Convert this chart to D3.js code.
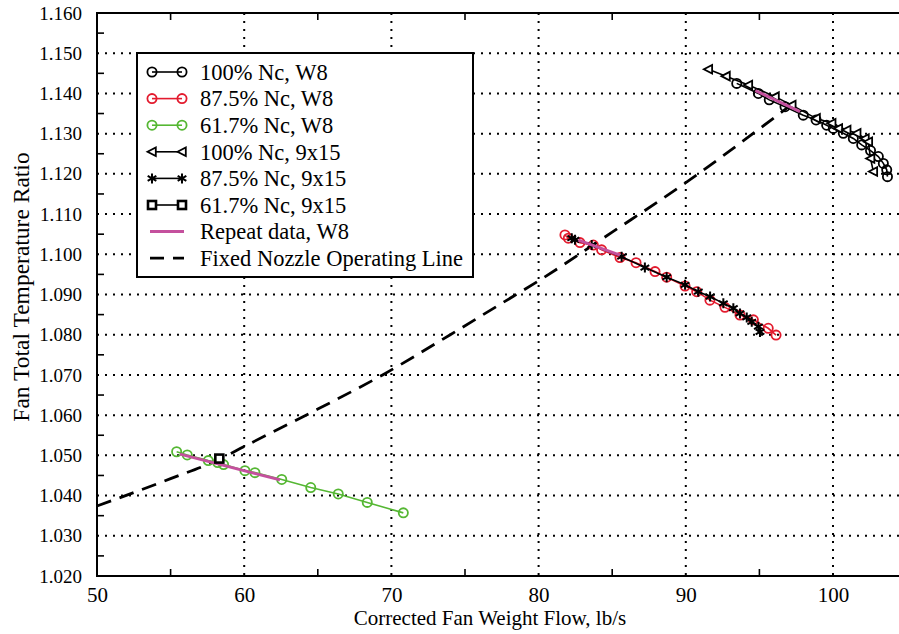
<!DOCTYPE html>
<html>
<head>
<meta charset="utf-8">
<script src="https://cdn.jsdelivr.net/npm/d3@7"></script>
<style>
  html, body { margin: 0; padding: 0; background: #fff; }
  svg { display: block; }
  text { font-family: "Liberation Serif", "Times New Roman", serif; fill: #000; }
</style>
</head>
<body>
<svg id="chart" width="899" height="634"></svg>
<script>
// ---------------- DATA ----------------
const xTicks = [50, 60, 70, 80, 90, 100];
const xMinorTicks = [55, 65, 75, 85, 95, 105];
const yTicks = [1.020, 1.030, 1.040, 1.050, 1.060, 1.070, 1.080, 1.090, 1.100, 1.110, 1.120, 1.130, 1.140, 1.150, 1.160];
const yMinorTicks = [1.025, 1.035, 1.045, 1.055, 1.065, 1.075, 1.085, 1.095, 1.105, 1.115, 1.125, 1.135, 1.145, 1.155];

const nc100W8 = [[93.46,1.1425],[94.93,1.1400],[95.67,1.1384],[96.74,1.1367],[97.98,1.1346],[98.85,1.1334],[99.57,1.1321],[100.02,1.1313],[100.70,1.1301],[101.38,1.1288],[101.95,1.1272],[102.55,1.1258],[103.08,1.1243],[103.42,1.1226],[103.65,1.1210],[103.70,1.1193]];
const nc875W8 = [[81.79,1.1048],[82.02,1.1040],[82.81,1.1029],[83.72,1.1023],[84.28,1.1011],[85.53,1.0992],[86.62,1.0979],[87.91,1.0957],[88.70,1.0943],[89.95,1.0921],[90.74,1.0907],[91.64,1.0886],[92.66,1.0868],[93.68,1.0849],[94.59,1.0837],[95.60,1.0816],[96.13,1.0799]];
const nc617W8 = [[55.41,1.0509],[56.13,1.0501],[57.56,1.0487],[58.20,1.0482],[58.60,1.0477],[60.05,1.0462],[60.73,1.0457],[62.55,1.0440],[64.52,1.0420],[66.39,1.0404],[68.36,1.0383],[70.81,1.0357]];
const nc100_9x15 = [[91.53,1.1460],[92.73,1.1443],[94.25,1.1421],[96.06,1.1392],[97.20,1.1371],[98.85,1.1338],[99.91,1.1326],[100.36,1.1313],[100.93,1.1309],[101.61,1.1301],[102.17,1.1288],[102.40,1.1280],[102.55,1.1238],[102.74,1.1206]];
const nc875_9x15 = [[82.25,1.1040],[82.47,1.1036],[83.61,1.1023],[85.64,1.0994],[87.22,1.0967],[88.70,1.0943],[89.95,1.0924],[90.85,1.0907],[91.65,1.0895],[92.55,1.0878],[93.23,1.0866],[93.68,1.0853],[94.14,1.0843],[94.48,1.0832],[94.93,1.0820],[95.04,1.0807]];
const nc617_9x15 = [[58.31,1.0492]];
const repeat100 = [[94.73,1.1407],[97.76,1.1355]];
const repeat875 = [[82.70,1.1035],[85.53,1.0998]];
const repeat617 = [[55.64,1.0503],[62.43,1.0439]];
const operatingLine = [[50,1.0374],[55,1.0442],[58.3,1.0490],[60,1.0522],[65,1.0615],[69.4,1.0700],[74,1.0800],[77.4,1.0876],[80,1.0934],[85,1.1055],[90,1.1178],[95,1.1312],[97.1,1.1370]];

const legendLabels = ["100% Nc, W8","87.5% Nc, W8","61.7% Nc, W8","100% Nc, 9x15","87.5% Nc, 9x15","61.7% Nc, 9x15","Repeat data, W8","Fixed Nozzle Operating Line"];

(function () {
// ---------------- STYLES ----------------
const RED = "#e31b2e", GREEN = "#55b733", PINK = "#c4509d", BLACK = "#000";

const svg = d3.select("#chart");
const pL = 97, pR = 906.6, pT = 13, pB = 576;
const x = d3.scaleLinear().domain([50, 105]).range([pL, pR]);
const y = d3.scaleLinear().domain([1.020, 1.160]).range([pB, pT]);

// grid (dotted)
const grid = svg.append("g");
grid.selectAll(".vg").data(xTicks.filter(d => d > 50)).join("line")
  .attr("x1", d => x(d)).attr("x2", d => x(d)).attr("y1", pT).attr("y2", pB)
  .attr("stroke", BLACK).attr("stroke-width", 2).attr("stroke-dasharray", "2,6");
grid.selectAll(".hg").data(yTicks.filter(d => d > 1.0201 && d < 1.1599)).join("line")
  .attr("x1", pL).attr("x2", pR).attr("y1", d => y(d)).attr("y2", d => y(d))
  .attr("stroke", BLACK).attr("stroke-width", 2).attr("stroke-dasharray", "2,6");

// minor ticks
const tk = svg.append("g").attr("stroke", BLACK).attr("stroke-width", 1.6);
xMinorTicks.forEach(d => {
  tk.append("line").attr("x1", x(d)).attr("x2", x(d)).attr("y1", pB).attr("y2", pB - 7);
  tk.append("line").attr("x1", x(d)).attr("x2", x(d)).attr("y1", pT).attr("y2", pT + 7);
});
yMinorTicks.forEach(d => {
  tk.append("line").attr("x1", pL).attr("x2", pL + 7).attr("y1", y(d)).attr("y2", y(d));
  tk.append("line").attr("x1", pR).attr("x2", pR - 7).attr("y1", y(d)).attr("y2", y(d));
});

// tick labels via axes
const xAxis = svg.append("g").attr("transform", `translate(0,${pB})`)
  .call(d3.axisBottom(x).tickValues(xTicks).tickSize(0).tickPadding(0).tickFormat(d3.format("d")));
xAxis.select(".domain").remove();
xAxis.selectAll("text").attr("font-size", 21).attr("dy", null).attr("y", 26)
  .style("font-family", '"Liberation Serif", serif');

const yAxis = svg.append("g").attr("transform", `translate(${pL},0)`)
  .call(d3.axisLeft(y).tickValues(yTicks).tickSize(0).tickPadding(15).tickFormat(d3.format(".3f")));
yAxis.select(".domain").remove();
yAxis.selectAll("text").attr("font-size", 19).style("font-family", '"Liberation Serif", serif');

// axis titles
svg.append("text").attr("x", 490).attr("y", 625).attr("text-anchor", "middle")
  .attr("font-size", 21).text("Corrected Fan Weight Flow, lb/s");
svg.append("text").attr("transform", "translate(29,287) rotate(-90)").attr("text-anchor", "middle")
  .attr("font-size", 23.5).text("Fan Total Temperature Ratio");

// plot area
const plot = svg.append("g");
const line = d3.line().x(d => x(d[0])).y(d => y(d[1]));
const smooth = d3.line().x(d => x(d[0])).y(d => y(d[1])).curve(d3.curveMonotoneX);

// operating line
plot.append("path").datum(operatingLine).attr("d", smooth)
  .attr("fill", "none").attr("stroke", BLACK).attr("stroke-width", 2.8).attr("stroke-dasharray", "15,9");

// marker helpers
const circ = (g, data, color) => g.selectAll(null).data(data).join("circle")
  .attr("cx", d => x(d[0])).attr("cy", d => y(d[1])).attr("r", 4.6)
  .attr("fill", "none").attr("stroke", color).attr("stroke-width", 1.8);
const triPath = "M-4.5,0L3.8,-4.3L3.8,4.3Z";
const tri = (g, data) => g.selectAll(null).data(data).join("path")
  .attr("d", triPath).attr("transform", d => `translate(${x(d[0])},${y(d[1])})`)
  .attr("fill", "#fff").attr("stroke", BLACK).attr("stroke-width", 1.8);
const astPath = d3.symbol(d3.symbolAsterisk, 70)();
const ast = (g, data) => g.selectAll(null).data(data).join("path")
  .attr("d", astPath).attr("transform", d => `translate(${x(d[0])},${y(d[1])})`)
  .attr("fill", "none").attr("stroke", BLACK).attr("stroke-width", 2);
const sq = (g, data) => g.selectAll(null).data(data).join("rect")
  .attr("x", d => x(d[0]) - 4).attr("y", d => y(d[1]) - 4).attr("width", 8).attr("height", 8)
  .attr("fill", "#fff").attr("stroke", BLACK).attr("stroke-width", 2.6);

const seriesLine = (data, color, w) => plot.append("path").datum(data).attr("d", line)
  .attr("fill", "none").attr("stroke", color).attr("stroke-width", w);

// W8 series
seriesLine(nc100W8, BLACK, 1.6); circ(plot.append("g"), nc100W8, BLACK);
seriesLine(nc875W8, RED, 1.6); circ(plot.append("g"), nc875W8, RED);
seriesLine(nc617W8, GREEN, 1.6); circ(plot.append("g"), nc617W8, GREEN);

// 9x15 series
seriesLine(nc100_9x15, BLACK, 1.6); tri(plot.append("g"), nc100_9x15);
seriesLine(nc875_9x15, BLACK, 1.6); ast(plot.append("g"), nc875_9x15);

// repeat data
[repeat100, repeat875, repeat617].forEach(d => seriesLine(d, PINK, 3));

seriesLine(nc617_9x15, BLACK, 1.5); sq(plot.append("g"), nc617_9x15);

// frame
svg.append("rect").attr("x", pL).attr("y", pT).attr("width", pR - pL).attr("height", pB - pT)
  .attr("fill", "none").attr("stroke", BLACK).attr("stroke-width", 2);

// legend
const lg = svg.append("g");
lg.append("rect").attr("x", 137).attr("y", 53).attr("width", 336).attr("height", 224)
  .attr("fill", "#fff").attr("stroke", BLACK).attr("stroke-width", 2);
const rowY = i => 72 + i * 26.6;
const lx1 = 152, lx2 = 182;
const styles = [
  {c: BLACK, m: "circle"}, {c: RED, m: "circle"}, {c: GREEN, m: "circle"},
  {c: BLACK, m: "tri"}, {c: BLACK, m: "ast"}, {c: BLACK, m: "sq"},
  {c: PINK, m: "repeat"}, {c: BLACK, m: "dash"}
];
legendLabels.forEach((lab, i) => {
  const cy = rowY(i), st = styles[i];
  const g = lg.append("g");
  const pts = [[x.invert(lx1), y.invert(cy)], [x.invert(lx2), y.invert(cy)]];
  if (st.m === "repeat") {
    g.append("line").attr("x1", 150).attr("x2", 184).attr("y1", cy).attr("y2", cy)
      .attr("stroke", PINK).attr("stroke-width", 3);
  } else if (st.m === "dash") {
    g.append("line").attr("x1", 150).attr("x2", 184).attr("y1", cy).attr("y2", cy)
      .attr("stroke", BLACK).attr("stroke-width", 2.8).attr("stroke-dasharray", "14,9");
  } else {
    g.append("path").datum(pts).attr("d", line).attr("stroke", st.c).attr("stroke-width", 1.6).attr("fill", "none");
    if (st.m === "circle") circ(g, pts, st.c);
    if (st.m === "tri") tri(g, pts);
    if (st.m === "ast") ast(g, pts);
    if (st.m === "sq") sq(g, pts);
  }
  g.append("text").attr("x", 200).attr("y", cy).attr("dy", "0.35em")
    .attr("font-size", 22.5).text(lab);
});
})();
</script>
</body>
</html>
